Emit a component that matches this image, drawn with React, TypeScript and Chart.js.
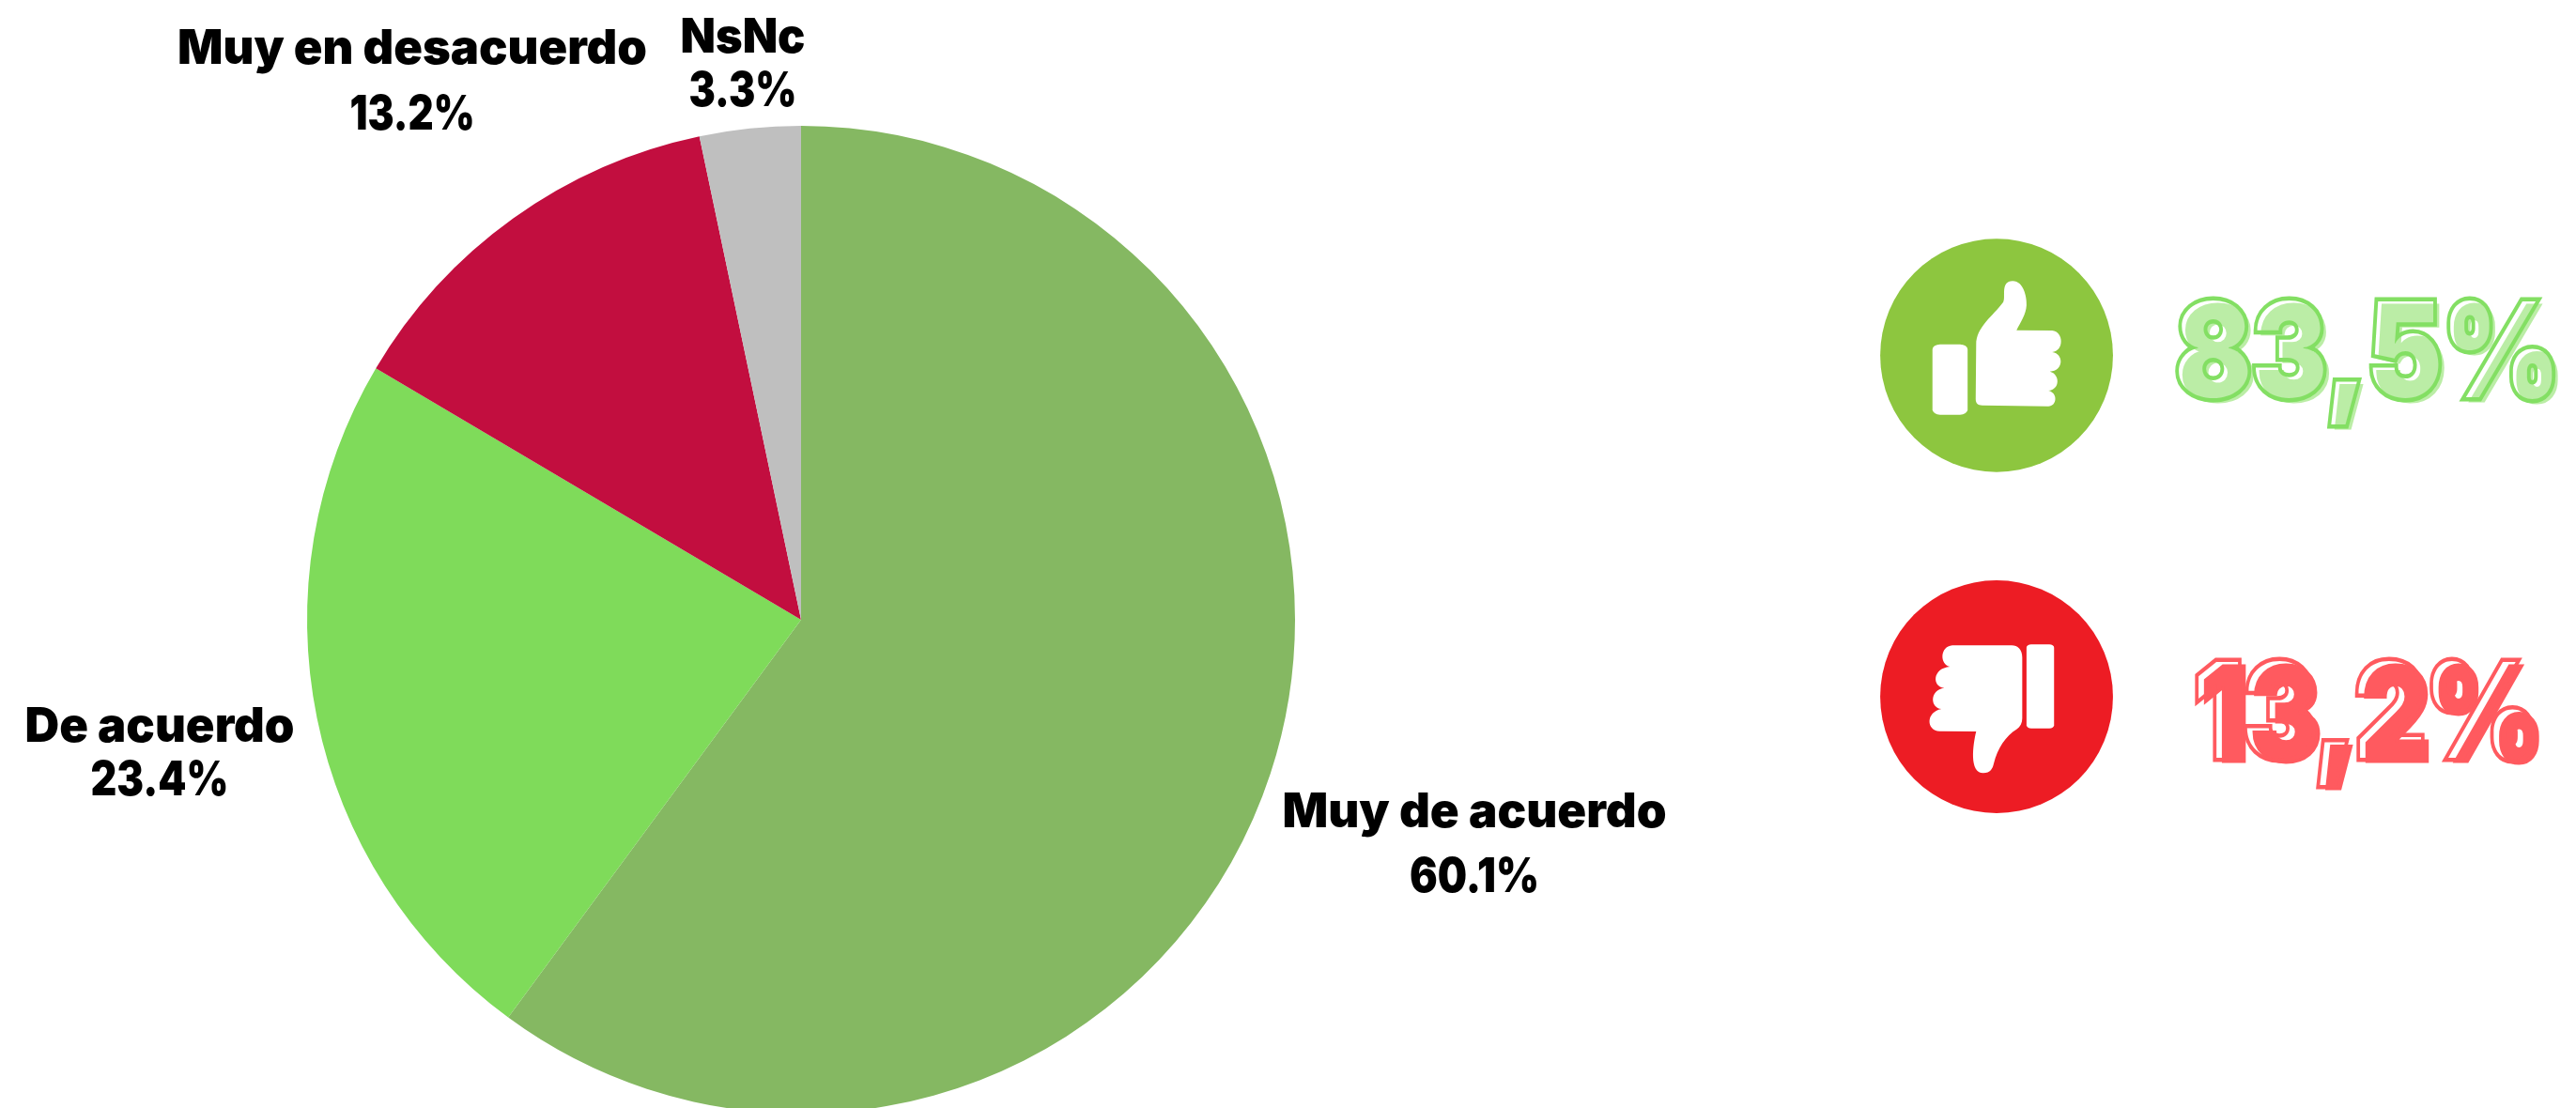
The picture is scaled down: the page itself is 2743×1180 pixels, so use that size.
import React, { useEffect, useRef } from "react";
import { Chart, registerables } from "chart.js";

Chart.register(...registerables);

const categories = ["Muy de acuerdo", "De acuerdo", "Muy en desacuerdo", "NsNc"];
const values = [60.1, 23.4, 13.2, 3.3];
const valueLabels = ["60.1%", "23.4%", "13.2%", "3.3%"];
const sliceColors = ["#85B862", "#7FDB5A", "#C20E3F", "#BFBFBF"];
const summaryLabels = ["83,5%", "13,2%"];

const WIDTH = 2743;
const HEIGHT = 1180;
const labelFont = "900 51px Inter, sans-serif";
// centre x, first baseline, second baseline, name width, value width
const labelPlaces = [
  [1570, 881, 950, 410, 138],
  [170, 790, 847, 287, 147],
  [439, 68, 138, 500, 133],
  [791, 56, 113, 133, 115],
];

function thumbUp(ctx: CanvasRenderingContext2D) {
  ctx.save();
  ctx.translate(1950, 220);
  ctx.scale(1 / 1.977, 1 / 3);
  ctx.fillStyle = "#8DC63F";
  ctx.beginPath();
  ctx.ellipse(348, 475.5, 245, 372.5, 0, 0, Math.PI * 2);
  ctx.fill();
  ctx.fillStyle = "#FFFFFF";
  ctx.beginPath();
  ctx.roundRect(213, 440, 74, 225, [16, 16, 16, 16]);
  ctx.fill();
  ctx.beginPath();
  ctx.moveTo(304, 615);
  ctx.lineTo(305, 440);
  ctx.bezierCurveTo(305, 385, 340, 350, 362, 305);
  ctx.bezierCurveTo(368, 290, 355, 238, 382, 238);
  ctx.bezierCurveTo(405, 238, 412, 290, 411, 315);
  ctx.bezierCurveTo(410, 345, 398, 370, 390, 395);
  ctx.lineTo(465, 396);
  ctx.bezierCurveTo(490, 400, 490, 462, 465, 465);
  ctx.bezierCurveTo(490, 470, 490, 525, 460, 527);
  ctx.bezierCurveTo(482, 535, 482, 585, 457, 588);
  ctx.bezierCurveTo(478, 595, 475, 638, 457, 638);
  ctx.lineTo(318, 635);
  ctx.bezierCurveTo(308, 635, 304, 628, 304, 615);
  ctx.closePath();
  ctx.fill();
  ctx.restore();
}

function thumbDown(ctx: CanvasRenderingContext2D) {
  ctx.save();
  ctx.translate(1950, 590);
  ctx.scale(1 / 1.977, 1 / 3);
  ctx.fillStyle = "#ED1C24";
  ctx.beginPath();
  ctx.ellipse(348, 456, 245, 372, 0, 0, Math.PI * 2);
  ctx.fill();
  ctx.fillStyle = "#FFFFFF";
  ctx.beginPath();
  ctx.roundRect(411, 289, 58, 268, [10, 10, 10, 10]);
  ctx.fill();
  ctx.beginPath();
  ctx.moveTo(402, 330);
  ctx.bezierCurveTo(402, 305, 392, 292, 380, 292);
  ctx.lineTo(255, 292);
  ctx.bezierCurveTo(228, 295, 228, 355, 250, 360);
  ctx.bezierCurveTo(212, 365, 212, 425, 238, 428);
  ctx.bezierCurveTo(206, 435, 208, 492, 232, 495);
  ctx.bezierCurveTo(198, 505, 200, 565, 228, 566);
  ctx.lineTo(305, 567);
  ctx.bezierCurveTo(298, 610, 290, 700, 320, 700);
  ctx.bezierCurveTo(335, 700, 340, 685, 342, 670);
  ctx.bezierCurveTo(350, 620, 368, 580, 390, 560);
  ctx.bezierCurveTo(398, 552, 402, 540, 402, 525);
  ctx.closePath();
  ctx.fill();
  ctx.restore();
}

function outlinedText(
  ctx: CanvasRenderingContext2D,
  text: string,
  x: number,
  y: number,
  width: number,
  fill: string,
  stroke: string,
  dx: number,
  dy: number,
) {
  const font = "900 140px Inter, sans-serif";
  ctx.save();
  ctx.font = font;
  ctx.textBaseline = "alphabetic";
  ctx.lineJoin = "miter";
  ctx.fillStyle = fill;
  ctx.strokeStyle = fill;
  ctx.lineWidth = 3;
  ctx.fillText(text, x + dx, y + dy, width);
  ctx.strokeText(text, x + dx, y + dy, width);
  ctx.restore();

  const off = document.createElement("canvas");
  off.width = WIDTH;
  off.height = HEIGHT;
  const o = off.getContext("2d")!;
  o.font = font;
  o.textBaseline = "alphabetic";
  o.lineJoin = "miter";
  o.strokeStyle = stroke;
  o.lineWidth = 9;
  o.strokeText(text, x, y, width);
  o.globalCompositeOperation = "destination-out";
  o.fillText(text, x, y, width);
  ctx.drawImage(off, 0, 0);
}

const decorations = {
  id: "decorations",
  afterDraw(chart: Chart) {
    const ctx = chart.ctx;
    ctx.save();
    ctx.fillStyle = "#000000";
    ctx.font = labelFont;
    ctx.textAlign = "center";
    ctx.textBaseline = "alphabetic";
    categories.forEach((name, i) => {
      const [x, y1, y2, w, w2] = labelPlaces[i];
      ctx.fillText(name, x, y1, w);
      ctx.fillText(valueLabels[i], x, y2, w2);
    });
    ctx.restore();
    thumbUp(ctx);
    thumbDown(ctx);
    outlinedText(ctx, summaryLabels[0], 2316, 423, 410, "#BBEDA6", "#83DF63", 5, 4);
    outlinedText(ctx, summaryLabels[1], 2336, 807, 368, "#FF5A5F", "#FF5A5F", 7, 4);
  },
};

export default function App() {
  const ref = useRef<HTMLCanvasElement>(null);
  useEffect(() => {
    document.body.style.overflow = "hidden";
    const chart = new Chart(ref.current!, {
      type: "pie",
      data: {
        labels: categories,
        datasets: [
          {
            data: values,
            backgroundColor: sliceColors,
            borderWidth: 0,
            radius: 526,
          },
        ],
      },
      options: {
        animation: false,
        responsive: false,
        devicePixelRatio: 1,
        layout: { padding: { left: 0, right: WIDTH - 2 * 853, top: 140, bottom: 0 } },
        plugins: { legend: { display: false }, tooltip: { enabled: false } },
      },
      plugins: [decorations],
    } as any);
    return () => chart.destroy();
  }, []);
  return (
    <canvas
      ref={ref}
      width={WIDTH}
      height={HEIGHT}
      style={{ position: "fixed", left: 0, top: 0, display: "block" }}
    />
  );
}
